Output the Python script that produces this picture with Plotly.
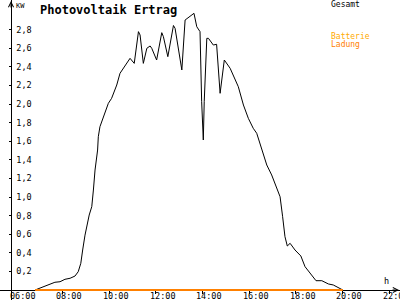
import plotly.graph_objects as go

# Data (hours as decimal, kW)
times = [6.83, 7.26, 7.68, 7.90, 8.11, 8.33, 8.54, 8.68, 8.79, 8.87, 8.97, 9.15, 9.26, 9.33,
         9.40, 9.51, 9.54, 9.61, 9.75, 9.97, 10.11, 10.33, 10.47, 10.69, 10.90, 11.08, 11.26,
         11.33, 11.47, 11.62, 11.76, 11.83, 12.04, 12.26, 12.33, 12.52, 12.76, 12.83, 13.12,
         13.26, 13.40, 13.64, 13.76, 13.90, 13.97, 14.04, 14.08, 14.19, 14.26, 14.47, 14.61,
         14.76, 14.94, 15.19, 15.54, 15.76, 15.97, 16.18, 16.33, 16.54, 16.76, 16.97, 17.19,
         17.33, 17.44, 17.54, 17.64, 17.76, 17.97, 18.04, 18.22, 18.40, 18.61, 18.87, 19.12,
         19.40, 19.61, 19.83, 20.02]
gesamt = [0, 0.043, 0.083, 0.089, 0.115, 0.126, 0.15, 0.197, 0.287, 0.43, 0.59, 0.806, 0.896,
          1.075, 1.29, 1.505, 1.648, 1.756, 1.846, 2.007, 2.061, 2.204, 2.33, 2.419, 2.491,
          2.437, 2.778, 2.742, 2.437, 2.599, 2.624, 2.599, 2.473, 2.767, 2.724, 2.509, 2.844,
          2.814, 2.366, 2.903, 2.928, 2.975, 2.831, 2.778, 2.025, 1.613, 2.025, 2.706, 2.706,
          2.634, 2.642, 2.115, 2.473, 2.384, 2.186, 1.989, 1.846, 1.739, 1.685, 1.524, 1.344,
          1.237, 1.094, 1.003, 0.788, 0.573, 0.473, 0.502, 0.43, 0.412, 0.366, 0.251, 0.186,
          0.10, 0.10, 0.065, 0.054, 0.029, 0]
batt_times = [6.83, 20.02]
batt_values = [0, 0]

x_tickvals = [6, 8, 10, 12, 14, 16, 18, 20, 22]
x_ticktext = ["06:00", "08:00", "10:00", "12:00", "14:00", "16:00", "18:00", "20:00", "22:00"]
y_tickvals = [0.2, 0.4, 0.6, 0.8, 1.0, 1.2, 1.4, 1.6, 1.8, 2.0, 2.2, 2.4, 2.6, 2.8]

title = "Photovoltaik Ertrag"
name_total = "Gesamt"
name_batt1 = "Batterie"
name_batt2 = "Ladung"

FONT = "DejaVu Sans Mono"

fig = go.Figure()
fig.add_trace(go.Scatter(x=times, y=gesamt, mode="lines", name=name_total,
                         line=dict(color="black", width=1), hoverinfo="skip"))
fig.add_trace(go.Scatter(x=batt_times, y=batt_values, mode="lines", name=name_batt1 + " " + name_batt2,
                         line=dict(color="#FF8000", width=2), hoverinfo="skip"))

fig.update_layout(
    width=400, height=300,
    margin=dict(l=0, r=0, t=0, b=0, autoexpand=False),
    paper_bgcolor="white", plot_bgcolor="white",
    showlegend=False,
    separators=",.",
    font=dict(family=FONT, size=8.5, color="black"),
    xaxis=dict(range=[5.327, 22.47], anchor="free", position=10 / 300,
               showline=True, linecolor="black", linewidth=1,
               ticks="outside", ticklen=3, tickcolor="black", tickwidth=1,
               tickvals=x_tickvals, showticklabels=False, automargin=False,
               showgrid=False, zeroline=False, layer="below traces"),
    yaxis=dict(range=[-10 / 93, 290 / 93], anchor="free", position=11 / 400,
               showline=True, linecolor="black", linewidth=1,
               ticks="outside", ticklen=2, tickcolor="black", tickwidth=1,
               tickvals=y_tickvals, tickformat=".1f", automargin=False,
               ticklabelposition="inside", ticklabelstandoff=3,
               showgrid=False, zeroline=False, layer="below traces",
               tickfont=dict(family=FONT, size=8.5, color="black")),
)

# X tick labels (placed at the tick values through the x axis)
for tv, tt in zip(x_tickvals, x_ticktext):
    fig.add_annotation(text=tt, xref="x", yref="paper", x=tv, y=1 - 295.5 / 300,
                       xanchor="center", yanchor="middle", xshift=7, showarrow=False,
                       font=dict(family=FONT, size=8.5, color="black"))

# Title and labels
fig.add_annotation(text="<b>" + title + "</b>", xref="paper", yref="paper",
                   x=38 / 400, y=1 - 1 / 300, xanchor="left", yanchor="top", showarrow=False,
                   font=dict(family=FONT, size=12, color="black"))
fig.add_annotation(text="KW", xref="paper", yref="paper", x=14 / 400, y=1 - 0 / 300,
                   xanchor="left", yanchor="top", showarrow=False,
                   font=dict(family=FONT, size=7, color="black"))
fig.add_annotation(text="h", xref="paper", yref="paper", x=386 / 400, y=1 - 281 / 300,
                   xanchor="center", yanchor="middle", showarrow=False,
                   font=dict(family=FONT, size=8.5, color="black"))
fig.add_annotation(text=name_total, xref="paper", yref="paper", x=329 / 400, y=1 - 4.5 / 300,
                   xanchor="left", yanchor="middle", showarrow=False,
                   font=dict(family=FONT, size=8, color="black"))
fig.add_annotation(text=name_batt1, xref="paper", yref="paper", x=329 / 400, y=1 - 36 / 300,
                   xanchor="left", yanchor="middle", showarrow=False,
                   font=dict(family=FONT, size=8, color="#FFAA00"))
fig.add_annotation(text=name_batt2, xref="paper", yref="paper", x=329 / 400, y=1 - 44 / 300,
                   xanchor="left", yanchor="middle", showarrow=False,
                   font=dict(family=FONT, size=8, color="#FF8000"))

# Axis arrows
fig.add_annotation(text="", xref="paper", yref="paper", x=11 / 400, y=1 - 1 / 300,
                   ax=0, ay=8, showarrow=True, arrowhead=5, arrowsize=1, arrowwidth=1,
                   arrowcolor="black")
fig.add_annotation(text="", xref="paper", yref="paper", x=399 / 400, y=10 / 300,
                   ax=-8, ay=0, showarrow=True, arrowhead=5, arrowsize=1, arrowwidth=1,
                   arrowcolor="black")

fig.write_html("out.html")
